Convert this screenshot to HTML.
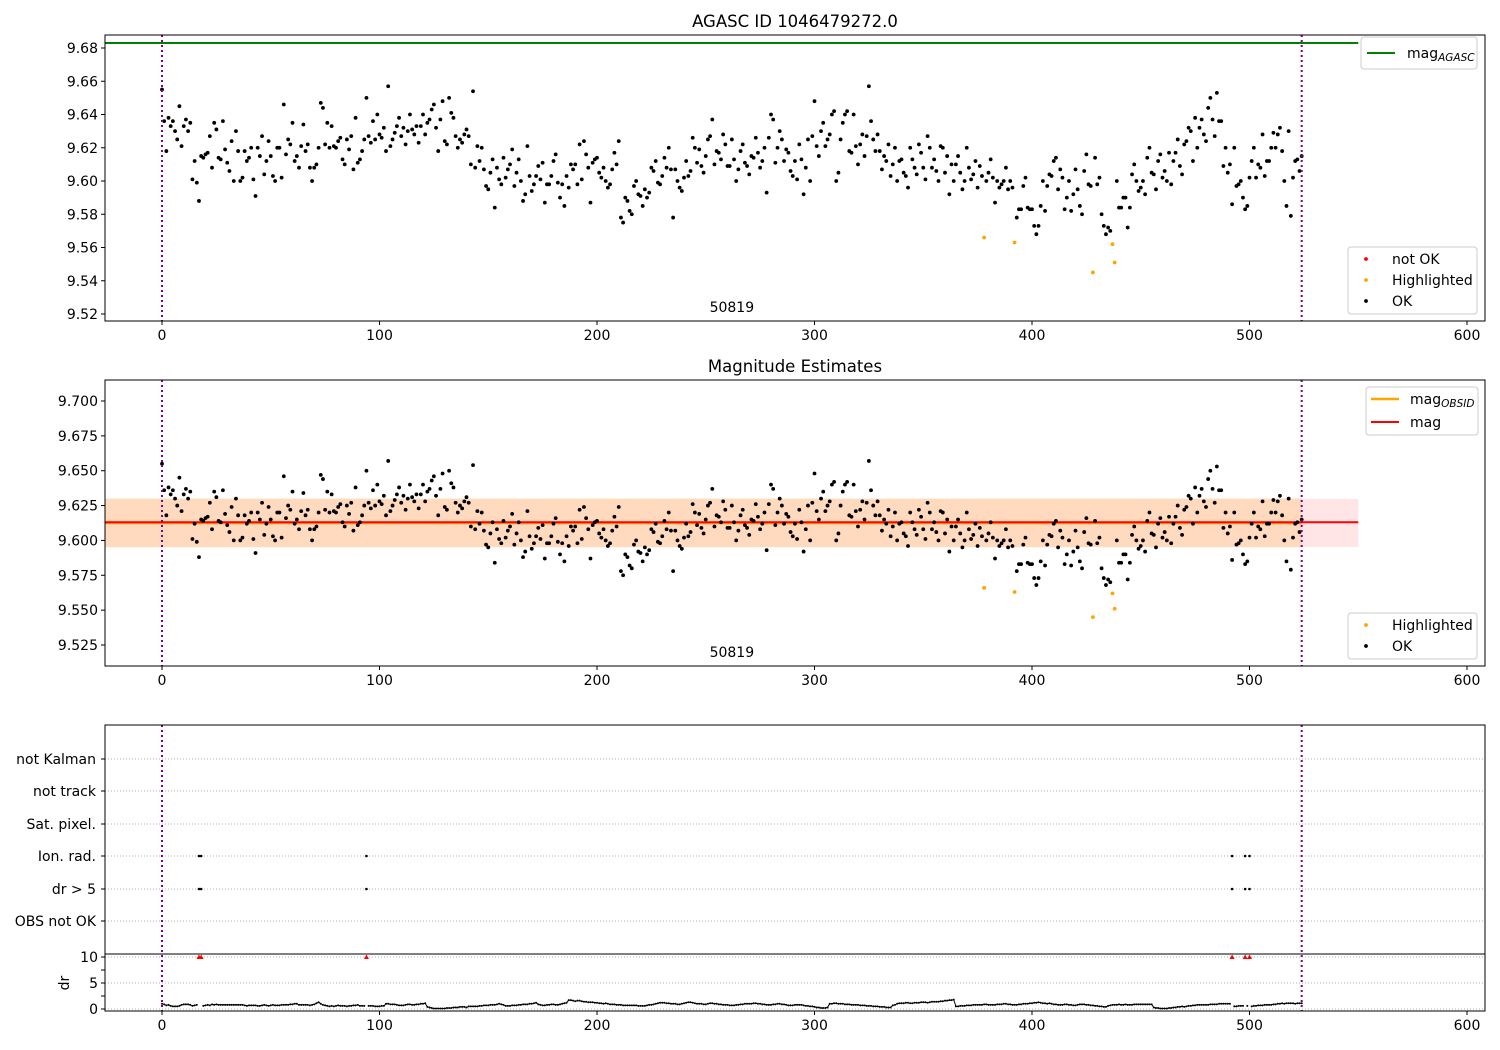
<!DOCTYPE html>
<html><head><meta charset="utf-8">
<style>
html,body{margin:0;padding:0;background:#fff;}
svg{display:block;font-family:"DejaVu Sans","Liberation Sans",sans-serif;}
</style></head>
<body>
<svg id="chart" width="1500" height="1050" viewBox="0 0 1500 1050" xmlns="http://www.w3.org/2000/svg"></svg>
<script>
const mag = [
9.655,9.636,9.618,9.638,9.633,9.636,9.630,9.625,9.645,9.621,
9.633,9.637,9.630,9.635,9.601,9.612,9.599,9.588,9.615,9.614,
9.616,9.617,9.627,9.608,9.635,9.631,9.614,9.613,9.636,9.619,
9.611,9.606,9.624,9.600,9.630,9.618,9.600,9.602,9.618,9.612,
9.614,9.620,9.601,9.591,9.620,9.615,9.627,9.604,9.612,9.624,
9.615,9.603,9.600,9.620,9.620,9.602,9.646,9.616,9.625,9.622,
9.635,9.612,9.615,9.608,9.621,9.634,9.618,9.622,9.608,9.600,
9.608,9.610,9.620,9.647,9.644,9.622,9.635,9.620,9.633,9.621,
9.620,9.624,9.626,9.613,9.610,9.625,9.619,9.627,9.607,9.638,
9.611,9.613,9.618,9.625,9.650,9.627,9.623,9.636,9.625,9.640,
9.628,9.626,9.632,9.618,9.657,9.621,9.625,9.629,9.633,9.638,
9.627,9.632,9.622,9.630,9.640,9.631,9.628,9.633,9.623,9.633,
9.640,9.628,9.635,9.637,9.643,9.646,9.632,9.618,9.637,9.648,
9.624,9.622,9.650,9.641,9.638,9.627,9.620,9.625,9.623,9.628,
9.631,9.627,9.610,9.654,9.608,9.621,9.612,9.620,9.607,9.597,
9.595,9.605,9.613,9.584,9.608,9.601,9.598,9.614,9.602,9.607,
9.610,9.619,9.597,9.605,9.613,9.600,9.588,9.592,9.621,9.603,
9.594,9.598,9.603,9.609,9.601,9.611,9.587,9.598,9.598,9.603,
9.612,9.616,9.599,9.590,9.598,9.585,9.603,9.596,9.610,9.607,
9.610,9.598,9.622,9.601,9.624,9.616,9.608,9.587,9.611,9.613,
9.614,9.605,9.602,9.608,9.600,9.596,9.598,9.607,9.617,9.610,
9.624,9.578,9.575,9.590,9.588,9.582,9.580,9.597,9.600,9.592,
9.591,9.585,9.595,9.590,9.593,9.608,9.606,9.612,9.599,9.598,
9.603,9.614,9.608,9.620,9.607,9.578,9.607,9.600,9.596,9.594,
9.602,9.612,9.603,9.606,9.626,9.620,9.611,9.619,9.609,9.605,
9.615,9.625,9.627,9.637,9.610,9.618,9.617,9.613,9.628,9.622,
9.609,9.609,9.625,9.613,9.600,9.607,9.618,9.622,9.611,9.609,
9.604,9.615,9.614,9.626,9.617,9.608,9.612,9.620,9.593,9.626,
9.640,9.637,9.611,9.620,9.630,9.625,9.612,9.619,9.617,9.606,
9.603,9.612,9.601,9.622,9.613,9.592,9.608,9.625,9.600,9.627,
9.648,9.621,9.615,9.630,9.635,9.621,9.625,9.628,9.640,9.642,
9.600,9.605,9.625,9.635,9.640,9.642,9.618,9.617,9.640,9.621,
9.610,9.622,9.628,9.615,9.627,9.657,9.636,9.625,9.618,9.628,
9.618,9.607,9.615,9.612,9.622,9.603,9.610,9.620,9.600,9.612,
9.613,9.605,9.603,9.596,9.620,9.613,9.608,9.604,9.622,9.617,
9.608,9.601,9.627,9.620,9.608,9.613,9.606,9.600,9.621,9.620,
9.605,9.615,9.592,9.610,9.600,9.610,9.615,9.605,9.595,9.600,
9.620,9.608,9.601,9.604,9.612,9.596,9.609,9.603,9.566,9.600,
9.605,9.613,9.602,9.587,9.600,9.596,9.598,9.600,9.608,9.595,
9.600,9.596,9.563,9.578,9.583,9.583,9.597,9.602,9.584,9.583,
9.583,9.573,9.568,9.573,9.585,9.600,9.582,9.597,9.604,9.603,
9.612,9.614,9.595,9.607,9.602,9.583,9.590,9.600,9.582,9.592,
9.607,9.595,9.585,9.580,9.606,9.616,9.598,9.597,9.545,9.614,
9.598,9.602,9.580,9.573,9.568,9.572,9.570,9.562,9.551,9.600,
9.584,9.584,9.590,9.590,9.572,9.584,9.604,9.610,9.600,9.594,
9.596,9.600,9.592,9.614,9.620,9.605,9.604,9.595,9.612,9.616,
9.602,9.606,9.600,9.617,9.598,9.612,9.617,9.625,9.609,9.604,
9.622,9.624,9.632,9.630,9.612,9.638,9.620,9.632,9.637,9.628,
9.624,9.644,9.650,9.637,9.627,9.653,9.636,9.636,9.609,9.620,
9.605,9.610,9.586,9.620,9.597,9.598,9.600,9.590,9.583,9.585,
9.602,9.612,9.620,9.602,9.610,9.608,9.628,9.603,9.612,9.612,
9.620,9.629,9.620,9.628,9.632,9.618,9.600,9.585,9.630,9.579,
9.602,9.612,9.613,9.606,9.615];
const highlightIdx = [378,392,428,437,438];
const dr = [
1.0,0.9,0.7,0.8,0.6,0.5,0.5,0.5,0.6,0.8,0.9,0.9,0.9,0.8,0.6,0.7,0.8,12,12,0.6,0.7,0.8,0.7,0.9,0.8,
0.9,0.8,0.8,0.8,0.8,0.8,0.8,0.8,0.8,0.8,0.8,0.8,0.8,0.7,0.6,0.7,0.7,0.7,0.7,0.6,0.6,0.7,0.8,0.7,0.6,
0.7,0.8,0.7,0.7,0.7,0.8,0.8,0.8,0.8,0.9,0.9,1.0,1.0,0.8,0.8,0.8,0.8,0.8,0.7,0.8,0.9,1.1,1.3,1.0,0.8,
0.7,0.6,0.5,0.6,0.5,0.6,0.7,0.6,0.6,0.6,0.5,0.6,0.6,0.7,0.7,0.8,0.6,0.6,0.6,12,0.6,0.6,0.6,0.5,0.5,
0.5,0.6,0.6,1.0,1.0,0.9,0.9,0.9,0.8,0.7,0.7,0.7,0.8,0.9,0.9,0.8,0.8,0.9,0.9,1.0,1.0,1.1,0.4,0.3,0.2,
0.1,0.1,0.1,0.1,0.1,0.1,0.2,0.2,0.2,0.3,0.3,0.3,0.4,0.4,0.4,0.3,0.5,0.5,0.5,0.5,0.5,0.6,0.6,0.7,0.7,
0.7,0.8,0.8,0.8,0.9,1.0,0.9,0.8,0.6,0.6,0.6,0.7,0.7,0.7,0.8,0.8,0.9,0.9,0.9,1.0,1.0,1.1,1.2,0.9,0.8,
0.7,0.7,0.8,0.8,0.9,0.9,0.8,0.8,0.9,1.0,1.1,1.2,1.7,1.7,1.6,1.5,1.6,1.6,1.5,1.4,1.4,1.3,1.3,1.3,1.2,
1.2,1.1,1.1,1.0,1.1,1.0,0.9,0.9,0.9,0.8,0.8,0.8,0.7,0.7,0.7,0.7,0.7,0.7,0.7,0.6,0.6,0.6,0.6,0.7,0.8,
0.8,0.9,1.0,1.1,1.2,1.2,1.2,1.1,1.1,1.0,1.0,1.0,0.9,0.9,1.0,1.1,1.2,1.3,1.3,1.2,1.1,1.0,1.0,1.0,0.9,
0.9,1.0,1.1,1.1,1.0,1.0,0.9,0.9,0.8,0.8,0.8,0.7,0.7,0.7,0.8,0.8,0.9,0.9,1.0,1.0,1.0,1.0,1.1,1.1,1.0,
1.0,0.9,0.9,0.8,0.8,0.8,0.9,0.9,1.0,1.0,0.9,0.9,0.8,0.7,0.7,0.7,0.8,0.8,0.8,0.8,0.7,0.6,0.6,0.5,0.5,
0.4,0.3,0.3,0.2,0.2,0.2,0.3,1.0,1.0,1.1,1.1,1.0,1.0,1.0,0.9,0.9,0.9,0.8,0.8,0.8,0.8,0.7,0.7,0.7,0.6,
0.6,0.6,0.5,0.5,0.5,0.4,0.4,0.4,0.3,0.3,0.3,0.7,0.8,1.0,1.1,1.1,1.1,1.2,1.2,1.1,1.1,1.2,1.2,1.2,1.3,
1.3,1.3,1.2,1.3,1.4,1.4,1.4,1.4,1.5,1.5,1.6,1.6,1.7,1.7,1.8,0.5,0.5,0.6,0.6,0.6,0.7,0.7,0.7,0.8,0.8,
0.8,0.8,0.8,0.9,0.9,0.8,0.8,0.8,0.8,0.9,0.9,0.9,1.0,1.0,0.9,0.9,0.8,0.8,0.8,0.9,0.9,1.0,1.0,1.0,1.1,
1.1,1.2,1.2,1.3,1.2,1.1,1.1,1.0,1.1,1.0,0.9,0.9,0.8,0.8,0.8,0.9,0.9,0.8,0.8,0.7,0.7,0.8,0.9,0.9,0.9,
0.8,0.8,0.7,0.7,0.6,0.6,0.5,0.5,0.4,0.4,0.6,0.7,0.8,0.8,0.8,0.9,0.8,0.8,0.9,0.8,0.8,0.8,0.9,0.9,0.9,
0.9,0.9,0.9,0.9,0.9,0.9,0.3,0.2,0.2,0.1,0.1,0.1,0.1,0.2,0.2,0.3,0.3,0.4,0.4,0.5,0.4,0.5,0.6,0.6,0.7,
0.7,0.8,0.8,0.8,0.8,0.8,0.8,0.9,0.9,0.9,0.9,1.0,1.0,1.0,1.0,1.0,1.0,12,0.5,0.5,0.6,0.6,0.6,12,0.6,
12,0.5,0.6,0.6,0.7,0.7,0.7,0.8,0.8,0.8,0.8,0.9,0.9,1.0,1.0,1.1,1.0,1.1,1.1,1.1,1.1,1.0,1.1,1.1,1.1];
const ionRadIdx = [17,18,94,492,498,500];
const drGt5Idx = [17,18,94,492,498,500];
const flagRows = ["OBS not OK","dr > 5","Ion. rad.","Sat. pixel.","not track","not Kalman"];
const xTicks = [0,100,200,300,400,500,600];
const y1Ticks = [9.52,9.54,9.56,9.58,9.60,9.62,9.64,9.66,9.68];
const y2Ticks = [9.525,9.550,9.575,9.600,9.625,9.650,9.675,9.700];
const drTicks = [0,5,10];
const magAgasc = [9.683];
const magObsid = [9.6125];
const magMean = [9.613];
const magBand = [9.5953,9.6297];
const obsidBand = [9.5950,9.6303];
const obsEnd = [524];
const agascEnd = [550];
const obsLabel = ["50819"];

const NS="http://www.w3.org/2000/svg";
const svg=document.getElementById('chart');
function mk(tag,attrs,parent){const e=document.createElementNS(NS,tag);for(const k in attrs)e.setAttribute(k,attrs[k]);(parent||svg).appendChild(e);return e;}
const X0=105,X1=1485;
const FS=14;
const sx=v=>162+(v)*2.175;
function lin(d0,d1,p0,p1){return v=>p0+(v-d0)*(p1-p0)/(d1-d0);}
const sy1=lin(9.52,9.68,314,48);
const sy2=lin(9.525,9.700,645,401);
const sdr=lin(0,10,1009,957);
const rowY=[921,889,856,824,791,759];

function axes(name){
  const g=mk('g',{});
  
  
  return g;
}
function frame(g,top,bot){
  const r=mk('rect',{x:X0,y:top,width:X1-X0,height:bot-top,fill:'none',stroke:'#000','stroke-width':1},g);
  
  
}
function xAxis(g,bot){
  xTicks.forEach(t=>{
    const x=sx(t);
    mk('line',{x1:x,x2:x,y1:bot,y2:bot+4,stroke:'#000'},g);
    const tx=mk('text',{x:x,y:bot+19,'font-size':FS,'text-anchor':'middle'},g);
    tx.textContent=t;
    
    
  });
}
function yAxis(g,ticks,sy,fmt){
  ticks.forEach(t=>{
    const y=sy(t);
    mk('line',{x1:X0-4,x2:X0,y1:y,y2:y,stroke:'#000'},g);
    const tx=mk('text',{x:X0-7,y:y+5,'font-size':FS,'text-anchor':'end'},g);
    tx.textContent=t.toFixed(fmt);
    
    
  });
}
function vlines(g,top,bot){
  [0,obsEnd[0]].forEach(v=>{
    const l=mk('line',{x1:sx(v),x2:sx(v),y1:top,y2:bot,stroke:'#800080','stroke-width':2,'stroke-dasharray':'2,3'},g);
    
    
  });
}
function dots(g,sy,name){
  const hl=new Set(highlightIdx);
  mag.forEach((m,i)=>{
    if(hl.has(i))return;
    const c=mk('circle',{cx:sx(i),cy:sy(m),r:1.9,fill:'#000'},g);
    
    
  });
  highlightIdx.forEach(i=>{
    const c=mk('circle',{cx:sx(i),cy:sy(mag[i]),r:1.9,fill:'orange'},g);
    
    
  });
}
function legendBox(g,x,y,w,h,name){
  const r=mk('rect',{x:x,y:y,width:w,height:h,rx:3,fill:'#fff','fill-opacity':0.8,stroke:'#ccc'},g);
  
  
}
function legendText(g,x,y,txt,sub){
  const t=mk('text',{x:x,y:y,'font-size':FS},g);
  t.textContent=txt;
  if(sub){const s=mk('tspan',{'font-size':10.5,'font-style':'italic',dy:3},t);s.textContent=sub;}
  
  
  return t;
}
function legendDot(g,x,y,color){
  const c=mk('circle',{cx:x,cy:y,r:1.9,fill:color},g);
  
  
}
function legendLine(g,x,y,color,w){
  const l=mk('line',{x1:x,x2:x+28,y1:y,y2:y,stroke:color,'stroke-width':w},g);
  
  
}

/* Panel 1 */
const p1=axes('agasc-panel');
const t1=mk('text',{x:795,y:27,'font-size':16.5,'text-anchor':'middle'},p1);
t1.textContent='AGASC ID 1046479272.0';


const gl=mk('line',{x1:X0,x2:sx(agascEnd[0]),y1:sy1(magAgasc[0]),y2:sy1(magAgasc[0]),stroke:'green','stroke-width':2},p1);


dots(p1,sy1,'ok-point');
vlines(p1,35,321);
const l1=mk('text',{x:sx(262),y:312,'font-size':FS,'text-anchor':'middle'},p1);
l1.textContent=obsLabel[0];


frame(p1,35,321); xAxis(p1,321); yAxis(p1,y1Ticks,sy1,2);
legendBox(p1,1361,37,116,32,'legend-agasc');
legendLine(p1,1367,53,'green',2); legendText(p1,1407,58,'mag','AGASC');
legendBox(p1,1348,247,129,67,'legend-status');
legendDot(p1,1366,259,'red'); legendText(p1,1392,264,'not OK');
legendDot(p1,1366,280,'orange'); legendText(p1,1392,285,'Highlighted');
legendDot(p1,1366,301,'#000'); legendText(p1,1392,306,'OK');

/* Panel 2 */
const p2=axes('magnitude-estimates-panel');
const t2=mk('text',{x:795,y:372,'font-size':16.5,'text-anchor':'middle'},p2);
t2.textContent='Magnitude Estimates';


const b1=mk('rect',{x:X0,y:sy2(magBand[1]),width:sx(agascEnd[0])-X0,height:sy2(magBand[0])-sy2(magBand[1]),fill:'rgba(255,0,0,0.1)'},p2);


const b2=mk('rect',{x:X0,y:sy2(obsidBand[1]),width:sx(obsEnd[0])-X0,height:sy2(obsidBand[0])-sy2(obsidBand[1]),fill:'rgba(255,165,0,0.17)'},p2);


const ol=mk('line',{x1:X0,x2:sx(obsEnd[0]),y1:sy2(magObsid[0]),y2:sy2(magObsid[0]),stroke:'orange','stroke-width':2.5},p2);


const rl=mk('line',{x1:X0,x2:sx(agascEnd[0]),y1:sy2(magMean[0]),y2:sy2(magMean[0]),stroke:'red','stroke-width':2},p2);


dots(p2,sy2,'ok-point');
vlines(p2,380,666);
const l2=mk('text',{x:sx(262),y:657,'font-size':FS,'text-anchor':'middle'},p2);
l2.textContent=obsLabel[0];


frame(p2,380,666); xAxis(p2,666); yAxis(p2,y2Ticks,sy2,3);
legendBox(p2,1366,387,112,48,'legend-mag');
legendLine(p2,1371,399,'orange',2.5); legendText(p2,1410,404,'mag','OBSID');
legendLine(p2,1371,422,'red',2); legendText(p2,1410,427,'mag');
legendBox(p2,1348,613,129,46,'legend-status');
legendDot(p2,1366,625,'orange'); legendText(p2,1392,630,'Highlighted');
legendDot(p2,1366,646,'#000'); legendText(p2,1392,651,'OK');

/* Panel 3 */
const p3=axes('flags-panel');
flagRows.forEach((r,i)=>{
  const y=rowY[i];
  mk('line',{x1:X0,x2:X1,y1:y,y2:y,stroke:'#b0b0b0','stroke-dasharray':'1,2'},p3);
  mk('line',{x1:X0-4,x2:X0,y1:y,y2:y,stroke:'#000'},p3);
  const t=mk('text',{x:X0-9,y:y+5,'font-size':FS,'text-anchor':'end'},p3);
  t.textContent=r;
  
  
});
ionRadIdx.forEach(i=>{
  const c=mk('circle',{cx:sx(i),cy:rowY[2],r:1.3,fill:'#000'},p3);
  
  
});
drGt5Idx.forEach(i=>{
  const c=mk('circle',{cx:sx(i),cy:rowY[1],r:1.3,fill:'#000'},p3);
  
  
});
const sep=mk('line',{x1:X0,x2:X1,y1:954,y2:954,stroke:'#000','stroke-width':1},p3);


drTicks.forEach(t=>{
  const y=sdr(t);
  mk('line',{x1:X0,x2:X1,y1:y,y2:y,stroke:'#b0b0b0','stroke-dasharray':'1,2'},p3);
  const tx=mk('text',{x:X0-7,y:y+5,'font-size':FS,'text-anchor':'end'},p3);
  tx.textContent=t;
  
  
});
[0,2.5,5,7.5,10].forEach(t=>mk('line',{x1:X0-4,x2:X0,y1:sdr(t),y2:sdr(t),stroke:'#000'},p3));
const drl=mk('text',{x:0,y:0,'font-size':FS,'text-anchor':'middle',transform:'translate(69,983) rotate(-90)'},p3);
drl.textContent='dr';


let seg=[];
function flush(){
  if(seg.length>1){
    const pl=mk('polyline',{points:seg.join(' '),fill:'none',stroke:'#000','stroke-width':1},p3);
    
    
  }
  seg=[];
}
dr.forEach((d,i)=>{
  if(d>5){
    flush();
    const x=sx(i),y=sdr(10);
    const tr=mk('polygon',{points:`${x-2.5},${y+2} ${x+2.5},${y+2} ${x},${y-2.5}`,fill:'red'},p3);
    
    
  } else {
    seg.push(sx(i).toFixed(1)+','+sdr(d).toFixed(1));
    const c=mk('circle',{cx:sx(i),cy:sdr(d),r:1,fill:'#000'},p3);
    
    
  }
});
flush();
vlines(p3,725,1011);
frame(p3,725,1011); xAxis(p3,1011);
</script>
</body></html>
